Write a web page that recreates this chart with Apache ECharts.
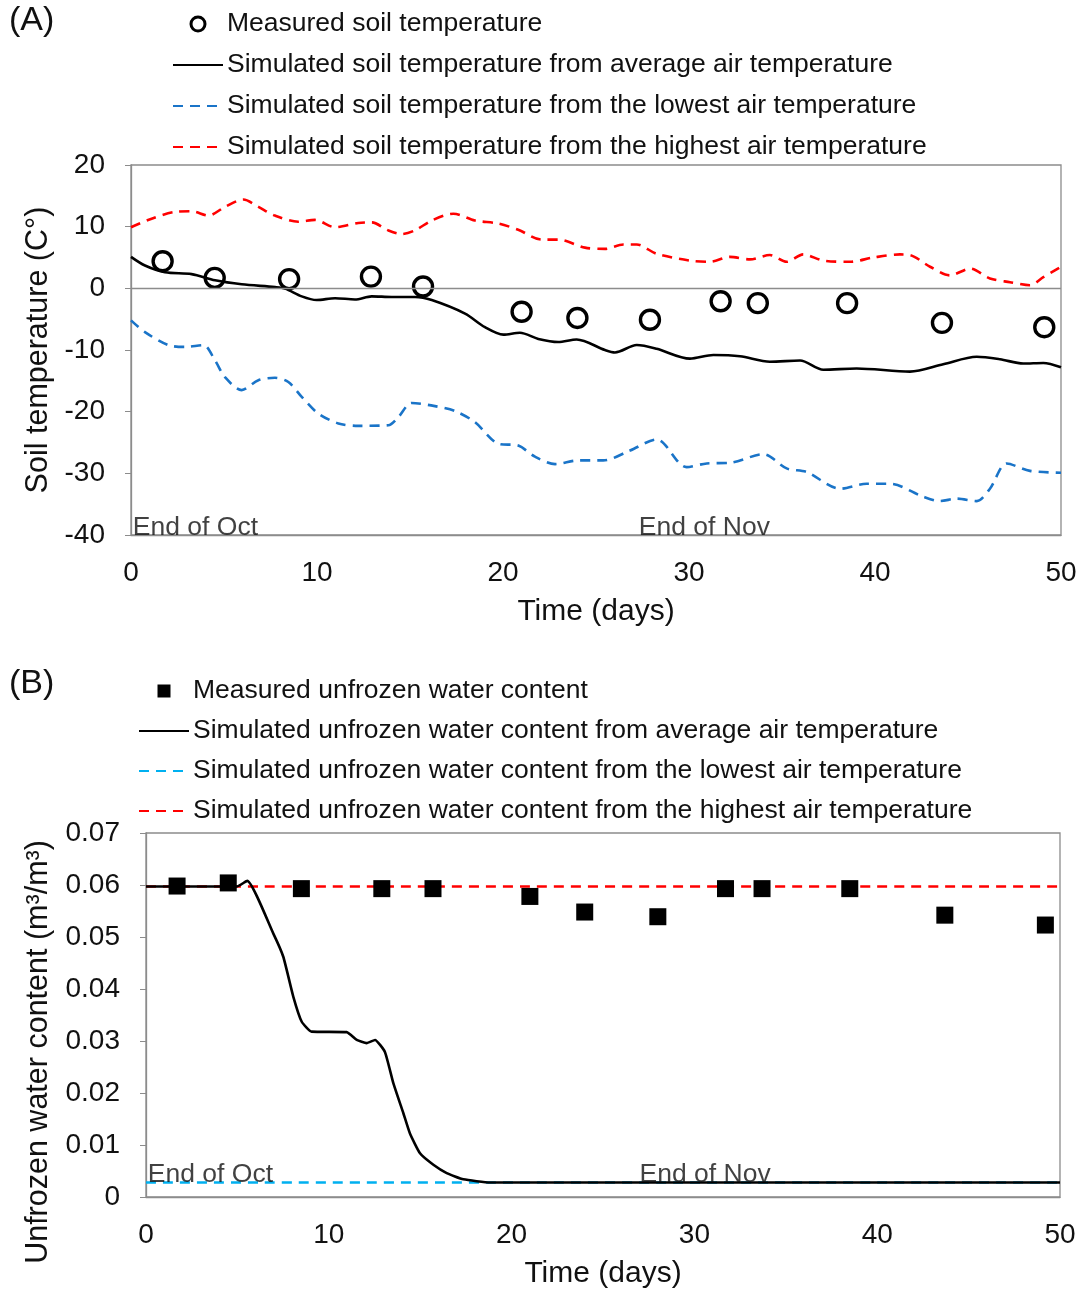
<!DOCTYPE html>
<html>
<head>
<meta charset="utf-8">
<script src="https://cdn.jsdelivr.net/npm/echarts@6/dist/echarts.min.js"></script>
<style>
  html, body { margin: 0; padding: 0; background: #fff; }
  #container { width: 1083px; height: 1294px; }
</style>
</head>
<body>
<div id="container"></div>
<script>
// ---- Panel A: soil temperature ----
var measuredDaysA = [1.7, 4.5, 8.5, 12.9, 15.7, 21.0, 24.0, 27.9, 31.7, 33.7, 38.5, 43.6, 49.1];
var measuredTempA = [4.4, 1.7, 1.5, 1.9, 0.3, -3.8, -4.8, -5.1, -2.1, -2.4, -2.4, -5.6, -6.3];

var avgDaysA = [0, 0.75, 1.83, 3.26, 4.52, 5.95, 7.74, 8.28, 9.18, 9.98, 10.97, 12.04, 12.94, 14.02, 15.27, 16.17, 17.96, 19.03, 20.02, 20.91, 21.9, 22.97, 23.96, 25.48, 26.02, 27.19, 28.26, 30.05, 31.31, 32.74, 34.35, 35.97, 37.22, 39.01, 41.88, 43.67, 45.47, 46.72, 47.97, 49.05, 50];
var avgTempA = [5.1, 3.7, 2.6, 2.3, 1.3, 0.65, 0.2, -0.05, -1.3, -1.9, -1.6, -1.8, -1.3, -1.4, -1.4, -1.9, -4.1, -6.3, -7.5, -7.2, -8.2, -8.7, -8.3, -10.0, -10.4, -9.2, -9.8, -11.4, -10.8, -11.0, -11.9, -11.7, -13.2, -13.0, -13.5, -12.3, -11.1, -11.5, -12.2, -12.1, -12.8];

var lowDaysA = [0, 0.75, 2.0, 2.9, 3.89, 4.52, 5.05, 5.95, 6.85, 7.74, 8.46, 9.18, 10.07, 11.15, 12.22, 13.83, 14.37, 15.09, 16.34, 17.42, 18.49, 19.75, 20.82, 21.72, 22.8, 24.05, 25.39, 26.83, 28.26, 29.87, 30.95, 32.2, 33.99, 35.25, 36.33, 38.12, 39.55, 40.81, 42.6, 43.49, 44.39, 45.47, 46.18, 47.08, 48.33, 50];
var lowTempA = [-5.2, -7.1, -9.2, -9.5, -9.2, -11.7, -14.4, -16.5, -14.9, -14.5, -15.2, -17.6, -20.3, -21.9, -22.3, -22.2, -20.9, -18.6, -19.1, -19.9, -21.7, -25.2, -25.5, -27.3, -28.5, -27.9, -27.9, -26.3, -24.5, -29.0, -28.4, -28.3, -26.9, -29.2, -29.8, -32.5, -31.7, -31.7, -33.8, -34.5, -34.1, -34.5, -32.5, -28.4, -29.6, -29.9];

var highDaysA = [0, 1.11, 2.37, 3.26, 4.16, 5.05, 6.04, 6.85, 7.74, 8.99, 9.89, 10.97, 12.22, 12.94, 13.83, 14.55, 15.27, 16.17, 17.33, 18.49, 19.75, 20.82, 22.08, 22.97, 24.41, 25.48, 26.47, 27.19, 28.26, 30.05, 31.13, 32.2, 33.28, 34.35, 35.25, 36.14, 37.22, 38.66, 39.91, 41.34, 41.88, 42.96, 44.03, 45.11, 46.18, 47.26, 48.33, 49.05, 50];
var highTempA = [9.9, 11.3, 12.4, 12.5, 11.8, 13.2, 14.4, 13.2, 11.8, 10.8, 11.1, 9.9, 10.6, 10.7, 9.4, 8.8, 9.4, 11.0, 12.1, 11.0, 10.5, 9.5, 7.9, 7.9, 6.6, 6.4, 7.1, 7.1, 5.6, 4.5, 4.3, 5.1, 4.7, 5.4, 4.3, 5.5, 4.5, 4.3, 5.0, 5.5, 5.4, 3.5, 2.1, 3.2, 1.6, 1.0, 0.5, 1.8, 3.5];

// ---- Panel B: unfrozen water content ----
var measuredDaysB = [1.7, 4.5, 8.5, 12.9, 15.7, 21.0, 24.0, 28.0, 31.7, 33.7, 38.5, 43.7, 49.2];
var measuredWaterB = [0.0598, 0.0604, 0.0593, 0.0593, 0.0593, 0.0578, 0.0548, 0.0539, 0.0593, 0.0593, 0.0593, 0.0542, 0.0523];

var avgDaysB = [0, 4.96, 5.54, 6.96, 7.51, 8.06, 8.52, 9.06, 10.98, 11.53, 12.07, 12.53, 13.07, 13.53, 14.08, 14.44, 14.99, 15.72, 16.45, 17.36, 18.82, 50];
var avgWaterB = [0.0597, 0.0597, 0.0608, 0.0507, 0.0462, 0.0385, 0.0337, 0.0318, 0.0317, 0.0302, 0.0296, 0.0302, 0.0279, 0.0219, 0.0161, 0.0122, 0.0084, 0.0062, 0.0046, 0.0034, 0.0028, 0.0028];

var lowDaysB = [0, 50];
var lowWaterB = [0.0028, 0.0028];
var highDaysB = [0, 50];
var highWaterB = [0.0597, 0.0597];

var noteText = ['End of Oct', 'End of Nov'];
var noteDaysA = [0.1, 27.3];
var noteTempA = [-38.8, -38.8];
var noteDaysB = [0.1, 27.0];
var noteWaterB = [0.0043, 0.0043];

var legendA = [
  'Measured soil temperature',
  'Simulated soil temperature from average air temperature',
  'Simulated soil temperature from the lowest air temperature',
  'Simulated soil temperature from the highest air temperature'
];
var legendB = [
  'Measured unfrozen water content',
  'Simulated unfrozen water content from average air temperature',
  'Simulated unfrozen water content from the lowest air temperature',
  'Simulated unfrozen water content from the highest air temperature'
];

function pairs(xs, ys) {
  return xs.map(function (x, i) { return [x, ys[i]]; });
}
function notes(xs, ys) {
  return noteText.map(function (t, i) { return { name: t, value: [xs[i], ys[i]] }; });
}
// legend entries: line items hide the middle dot, marker item keeps its own icon
function legendItems(names, markerItem) {
  return names.map(function (n, i) {
    if (i === 0) return Object.assign({ name: n }, markerItem);
    return { name: n, itemStyle: { opacity: 0 } };
  });
}

var FONT = 'Liberation Sans, Arial, sans-serif';
var GREY = '#8c8c8c';
var INK = '#111';

var dom = document.getElementById('container');
var myChart = echarts.init(dom, null, { renderer: 'canvas' });

function xAxisFor(gridIndex) {
  return {
    type: 'value', gridIndex: gridIndex, min: 0, max: 50, interval: 10,
    name: 'Time (days)', nameLocation: 'middle', nameGap: 62,
    nameTextStyle: { fontFamily: FONT, fontSize: 30, color: INK },
    axisLine: { show: true, onZero: false, lineStyle: { color: GREY, width: 1.3 } },
    axisTick: { show: false },
    axisLabel: { fontFamily: FONT, fontSize: 28, color: INK, margin: 24 },
    splitLine: { show: false }
  };
}

function lineSeries(name, xi, yi, data, color, dashed, z) {
  return {
    name: name, type: 'line', xAxisIndex: xi, yAxisIndex: yi,
    data: data, symbol: 'none', smooth: 0.3, z: z,
    lineStyle: { color: color, width: 2.6, type: dashed ? [10, 7] : 'solid' },
    itemStyle: { color: color }
  };
}

var legendText = { fontFamily: FONT, fontSize: 26.5, color: INK, lineHeight: 30, padding: [0, 0, 0, -1] };

var option = {
  backgroundColor: '#fff',
  animation: false,
  graphic: [
    { type: 'text', left: 9, top: 4, style: { text: '(A)', font: '34px ' + FONT, fill: INK } },
    { type: 'text', left: 9, top: 667, style: { text: '(B)', font: '34px ' + FONT, fill: INK } }
  ],
  legend: [
    {
      data: legendItems(legendA, { itemStyle: { borderWidth: 3, borderColor: '#000' } }),
      orient: 'vertical', left: 167, top: 4,
      itemWidth: 50, itemHeight: 14, itemGap: 11, textStyle: legendText
    },
    {
      data: legendItems(legendB, { icon: 'path://M0,0L10,0L10,10L0,10Z' }),
      orient: 'vertical', left: 133, top: 671,
      itemWidth: 50, itemHeight: 13, itemGap: 10, textStyle: legendText
    }
  ],
  grid: [
    { left: 131, right: 22, top: 165, height: 370, show: true, borderColor: GREY, borderWidth: 1.3 },
    { left: 146, right: 23, top: 833, height: 364, show: true, borderColor: GREY, borderWidth: 1.3 }
  ],
  xAxis: [xAxisFor(0), xAxisFor(1)],
  yAxis: [
    {
      type: 'value', gridIndex: 0, min: -40, max: 20, interval: 10,
      name: 'Soil temperature (C°)', nameLocation: 'middle', nameGap: 77,
      nameTextStyle: { fontFamily: FONT, fontSize: 30.5, color: INK },
      axisLine: { show: true, lineStyle: { color: GREY, width: 1.3 } },
      axisTick: { show: true, length: 6, lineStyle: { color: GREY } },
      axisLabel: { fontFamily: FONT, fontSize: 28, color: INK, margin: 26 },
      splitLine: { show: false }
    },
    {
      type: 'value', gridIndex: 1, min: 0, max: 0.07, interval: 0.01,
      name: 'Unfrozen water content (m³/m³)', nameLocation: 'middle', nameGap: 92,
      nameTextStyle: { fontFamily: FONT, fontSize: 30.5, color: INK, padding: [0, 74, 0, 0] },
      axisLine: { show: true, lineStyle: { color: GREY, width: 1.3 } },
      axisTick: { show: true, length: 6, lineStyle: { color: GREY } },
      axisLabel: { fontFamily: FONT, fontSize: 28, color: INK, margin: 26 },
      splitLine: { show: false }
    }
  ],
  series: [
    lineSeries(legendA[3], 0, 0, pairs(highDaysA, highTempA), '#ff0000', true, 2),
    lineSeries(legendA[2], 0, 0, pairs(lowDaysA, lowTempA), '#1a74c8', true, 2),
    Object.assign(lineSeries(legendA[1], 0, 0, pairs(avgDaysA, avgTempA), '#000', false, 3), {
      markLine: {
        silent: true, symbol: 'none', label: { show: false },
        lineStyle: { color: GREY, width: 1.3, type: 'solid' },
        data: [{ yAxis: 0 }]
      }
    }),
    {
      name: legendA[0], type: 'scatter', xAxisIndex: 0, yAxisIndex: 0, z: 4,
      data: pairs(measuredDaysA, measuredTempA),
      symbol: 'circle', symbolSize: 19,
      itemStyle: { color: 'rgba(255,255,255,0)', borderColor: '#000', borderWidth: 3.4, opacity: 1 }
    },
    {
      name: 'notesA', type: 'scatter', xAxisIndex: 0, yAxisIndex: 0, z: 5,
      data: notes(noteDaysA, noteTempA), symbolSize: 0, silent: true,
      label: { show: true, position: 'right', distance: 0, formatter: '{b}', fontFamily: FONT, fontSize: 26.5, color: INK }
    },

    lineSeries(legendB[3], 1, 1, pairs(highDaysB, highWaterB), '#ff0000', true, 2),
    lineSeries(legendB[2], 1, 1, pairs(lowDaysB, lowWaterB), '#00b0f0', true, 2),
    Object.assign(lineSeries(legendB[1], 1, 1, pairs(avgDaysB, avgWaterB), '#000', false, 3), { smooth: 0.15 }),
    {
      name: legendB[0], type: 'scatter', xAxisIndex: 1, yAxisIndex: 1, z: 4,
      data: pairs(measuredDaysB, measuredWaterB),
      symbol: 'rect', symbolSize: 17,
      itemStyle: { color: '#000', opacity: 1 }
    },
    {
      name: 'notesB', type: 'scatter', xAxisIndex: 1, yAxisIndex: 1, z: 5,
      data: notes(noteDaysB, noteWaterB), symbolSize: 0, silent: true,
      label: { show: true, position: 'right', distance: 0, formatter: '{b}', fontFamily: FONT, fontSize: 26.5, color: INK }
    }
  ]
};

if (option && typeof option === 'object') {
  myChart.setOption(option);
}

window.addEventListener('resize', myChart.resize);
</script>
</body>
</html>
